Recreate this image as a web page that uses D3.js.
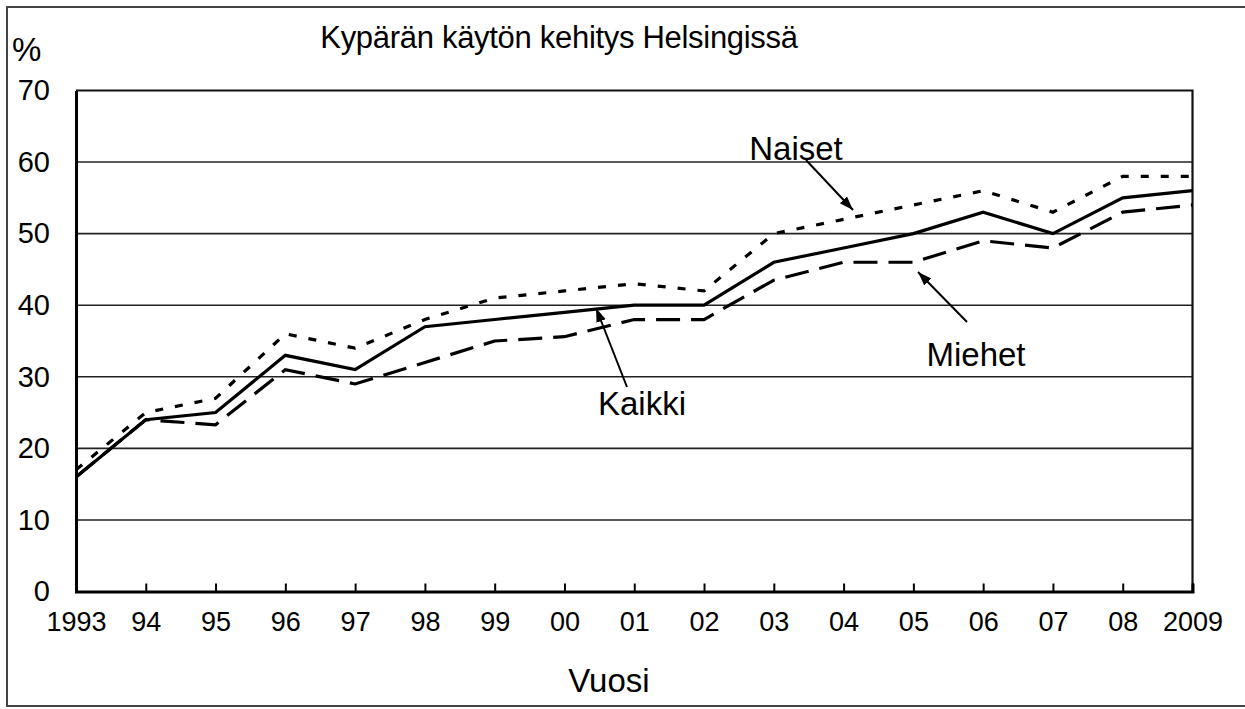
<!DOCTYPE html>
<html>
<head>
<meta charset="utf-8">
<script src="https://cdn.jsdelivr.net/npm/d3@7"></script>
<style>
  body { margin: 0; background: #fff; }
  text { font-family: "Liberation Sans", Arial, sans-serif; fill: #000; }
</style>
</head>
<body>
<script>
// Kypärän käyttö Helsingissä, %
var years = ["1993", "94", "95", "96", "97", "98", "99", "00", "01", "02", "03", "04", "05", "06", "07", "08", "2009"];
var kaikki = [16, 24, 25, 33, 31, 37, 38, 39, 40, 40, 46, 48, 50, 53, 50, 55, 56];
var naiset = [17, 25, 27, 36, 34, 38, 41, 42, 43, 42, 50, 52, 54, 56, 53, 58, 58];
var miehet = [16, 24, 23.3, 31, 29, 32, 35, 35.6, 38, 38, 43.5, 46, 46, 49, 48, 53, 54];
var yTicks = [0, 10, 20, 30, 40, 50, 60, 70];

var svg = d3.select("body").append("svg")
  .attr("width", 1245)
  .attr("height", 709);

// outer frame
svg.append("rect")
  .attr("x", 7).attr("y", 7)
  .attr("width", 1250).attr("height", 699)
  .attr("fill", "none")
  .attr("stroke", "#444")
  .attr("stroke-width", 2);

var x = d3.scaleLinear().domain([0, years.length - 1]).range([76, 1192.5]);
var y = d3.scaleLinear().domain([0, 70]).range([591.5, 90.5]);

// gridlines
svg.selectAll(".grid")
  .data(yTicks.filter(function (d) { return d > 0 && d < 70; }))
  .enter().append("line")
  .attr("x1", x(0)).attr("x2", x(years.length - 1))
  .attr("y1", function (d) { return y(d); })
  .attr("y2", function (d) { return y(d); })
  .attr("stroke", "#222")
  .attr("stroke-width", 1.6);

// plot border top + right
svg.append("path")
  .attr("d", "M" + x(0) + "," + y(70) + "H" + x(years.length - 1) + "V" + y(0))
  .attr("fill", "none")
  .attr("stroke", "#111")
  .attr("stroke-width", 2.2);

// x axis, ticks pointing up
var xAxis = svg.append("g")
  .attr("transform", "translate(0," + y(0) + ")")
  .call(d3.axisBottom(x)
    .tickValues(d3.range(years.length))
    .tickFormat(function (i) { return years[i]; })
    .tickSize(-8)
    .tickPadding(20));
xAxis.select(".domain").attr("stroke", "#000").attr("stroke-width", 3);
xAxis.selectAll(".tick line").attr("stroke", "#000").attr("stroke-width", 2);
xAxis.selectAll(".tick text")
  .attr("font-size", 27)
  .attr("font-family", "Liberation Sans, Arial, sans-serif")
  .attr("fill", "#000");

// y axis labels
var yAxis = svg.append("g")
  .attr("transform", "translate(" + x(0) + ",0)")
  .call(d3.axisLeft(y).tickValues(yTicks).tickSize(0).tickPadding(26));
yAxis.select(".domain").attr("stroke", "#000").attr("stroke-width", 3);
yAxis.selectAll(".tick text")
  .attr("font-size", 29)
  .attr("font-family", "Liberation Sans, Arial, sans-serif")
  .attr("fill", "#000");

// lines
var line = d3.line()
  .x(function (d, i) { return x(i); })
  .y(function (d) { return y(d); });

svg.append("path").datum(miehet)
  .attr("d", line)
  .attr("fill", "none")
  .attr("stroke", "#000")
  .attr("stroke-width", 3.2)
  .attr("stroke-dasharray", "24,11");

svg.append("path").datum(naiset)
  .attr("d", line)
  .attr("fill", "none")
  .attr("stroke", "#000")
  .attr("stroke-width", 3.2)
  .attr("stroke-dasharray", "8,12");

svg.append("path").datum(kaikki)
  .attr("d", line)
  .attr("fill", "none")
  .attr("stroke", "#000")
  .attr("stroke-width", 3.2);

// arrow marker
svg.append("defs").append("marker")
  .attr("id", "arrow")
  .attr("viewBox", "0 0 10 10")
  .attr("refX", 10).attr("refY", 5)
  .attr("markerWidth", 7).attr("markerHeight", 7)
  .attr("markerUnits", "strokeWidth")
  .attr("orient", "auto")
  .append("path")
  .attr("d", "M0,1.5L10,5L0,8.5Z")
  .attr("fill", "#000");

// series labels with arrows
var labels = [
  { name: "Naiset", tx: 796, ty: 160, ax1: 806, ay1: 160, ax2: 853, ay2: 210 },
  { name: "Kaikki", tx: 642, ty: 415, ax1: 627, ay1: 387, ax2: 596, ay2: 308 },
  { name: "Miehet", tx: 976, ty: 366, ax1: 967, ay1: 322, ax2: 918, ay2: 272 }
];

svg.selectAll(".arr")
  .data(labels)
  .enter().append("line")
  .attr("x1", function (d) { return d.ax1; })
  .attr("y1", function (d) { return d.ay1; })
  .attr("x2", function (d) { return d.ax2; })
  .attr("y2", function (d) { return d.ay2; })
  .attr("stroke", "#000")
  .attr("stroke-width", 2)
  .attr("marker-end", "url(#arrow)");

svg.selectAll(".lbl")
  .data(labels)
  .enter().append("text")
  .attr("x", function (d) { return d.tx; })
  .attr("y", function (d) { return d.ty; })
  .attr("text-anchor", "middle")
  .attr("font-size", 33)
  .text(function (d) { return d.name; });

// title, unit and axis title
svg.append("text")
  .attr("x", 559).attr("y", 48)
  .attr("text-anchor", "middle")
  .attr("font-size", 31)
  .attr("letter-spacing", -0.3)
  .text("Kypärän käytön kehitys Helsingissä");

svg.append("text")
  .attr("x", 12).attr("y", 61)
  .attr("font-size", 33)
  .text("%");

svg.append("text")
  .attr("x", 609).attr("y", 692)
  .attr("text-anchor", "middle")
  .attr("font-size", 33)
  .text("Vuosi");
</script>
</body>
</html>
